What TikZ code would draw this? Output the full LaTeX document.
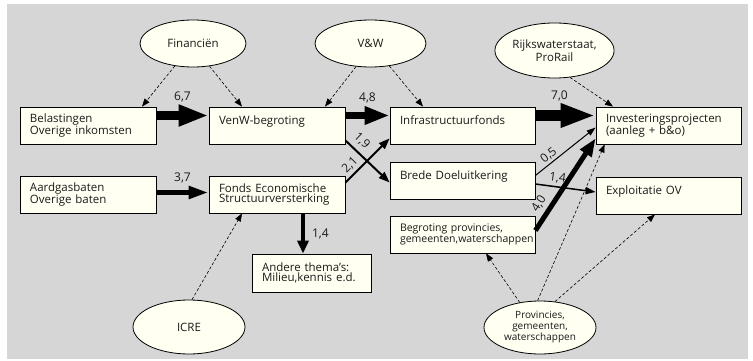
\documentclass[tikz,border=0pt]{standalone}
\usepackage{fontspec}
\setmainfont{Open Sans}
\usepackage{tikz}
\usetikzlibrary{arrows.meta,positioning,shapes.geometric}
\definecolor{bggrey}{HTML}{D6D6D6}
\definecolor{boxfill}{HTML}{FFFFF2}
\definecolor{ink}{HTML}{1A1A1A}

\begin{document}
\begin{tikzpicture}[x=1pt,y=-1pt,font=\fontsize{11.5}{10.5}\selectfont,text=ink,
  bx/.style={rectangle,draw=black,fill=boxfill,line width=0.8pt,align=left,inner xsep=10pt,inner ysep=3pt,minimum height=37pt,text width=#1},
  ov/.style={ellipse,draw=black,fill=boxfill,line width=0.8pt,align=center,inner sep=0pt},
  fl/.style={draw=black,line width=#1},
  dsh/.style={-{Triangle[length=8pt,width=6pt]},draw=black,line width=0.6pt,dash pattern=on 3pt off 2pt},
  lbl/.style={font=\fontsize{12}{12}\selectfont,inner sep=1pt}]
  \useasboundingbox (0,0) rectangle (753,361);
  \fill[bggrey] (7,4) rectangle (748,359);
  % ellipses
  \node[ov,minimum width=106pt,minimum height=47pt] (fin)  at (193,43.5)  {Financiën};
  \node[ov,minimum width=111pt,minimum height=47pt] (vw)   at (370.5,43.5) {V\&W};
  \node[ov,minimum width=107pt,minimum height=55pt] (rijk) at (554.5,50.5) {Rijkswaterstaat,\\ ProRail};
  \node[ov,minimum width=112pt,minimum height=54pt] (icre) at (189,327)   {ICRE};
  \node[ov,minimum width=112pt,minimum height=53pt,font=\fontsize{10}{11}\selectfont] (prov) at (540,327.5) {Provincies,\\ gemeenten,\\ waterschappen};
  % boxes
  \node[bx=116pt] (bel)   at (88,125.5)    {Belastingen\\ Overige inkomsten};
  \node[bx=116pt] (venw)  at (277,125.5)   {VenW-begroting\\ \mbox{}};
  \node[bx=125pt] (infra) at (462.5,125.5) {Infrastructuurfonds\\ \mbox{}};
  \node[bx=125pt] (inv)   at (668.5,125.5) {Investeringsprojecten\\ (aanleg + b\&o)};
  \node[bx=116pt] (aard)  at (88,194.5)    {Aardgasbaten\\ Overige baten};
  \node[bx=116pt] (fes)   at (277,194.5)   {Fonds Economische\\ Structuurversterking};
  \node[bx=125pt] (brede) at (462.5,180.5) {Brede Doeluitkering\\ \mbox{}};
  \node[bx=125pt] (expl)  at (668.5,195.5) {Exploitatie OV\\ \mbox{}};
  \node[bx=125pt,font=\fontsize{10.5}{11}\selectfont] (begr) at (462.5,234.5) {Begroting provincies,\\ gemeenten,waterschappen};
  \node[bx=99pt,minimum height=38pt] (andere) at (311.5,273) {Andere thema’s:\\ Milieu,kennis e.d.};
  % money flows
  \draw[fl=9pt,-{Triangle[length=30pt,width=20pt]}] ([yshift=10pt]bel.east) -- ([yshift=10pt]venw.west)
    node[lbl,midway,above=8pt] {6,7};
  \draw[fl=7pt,-{Triangle[length=25pt,width=17pt]}] ([yshift=10pt]venw.east) -- ([yshift=10pt]infra.west)
    node[lbl,midway,above=8pt] {4,8};
  \draw[fl=10pt,-{Triangle[length=35pt,width=22pt]}] ([yshift=10pt]infra.east) -- ([yshift=10pt]inv.west)
    node[lbl,pos=0.4,above=8pt] {7,0};
  \draw[fl=5pt,-{Triangle[length=20pt,width=12pt]}] ([yshift=2pt]aard.east) -- ([yshift=2pt]fes.west)
    node[lbl,midway,above=6pt] {3,7};
  \draw[fl=4pt,-{Triangle[length=13pt,width=11pt]}] ([xshift=26pt]fes.south) -- ([xshift=26pt]fes.south |- andere.north)
    node[lbl,midway,right=6pt] {1,4};
  \draw[fl=2pt,-{Triangle[length=11pt,width=8pt]}] ([yshift=4pt]venw.south east) -- ([yshift=-2pt]brede.west)
    node[lbl,pos=0.2,above=4pt,sloped] {1,9};
  \draw[fl=2pt,-{Triangle[length=11pt,width=8pt]}] ([yshift=-7pt]fes.north east) -- ([yshift=6pt]infra.south west)
    node[lbl,pos=0.25,above=2pt,sloped] {2,1};
  \draw[fl=1pt,-{Triangle[length=9pt,width=6pt]}] ([yshift=5pt]brede.east) -- ([yshift=-2pt]inv.west)
    node[lbl,pos=0.3,above=1pt,sloped] {0,5};
  \draw[fl=1.5pt,-{Triangle[length=10pt,width=7pt]}] ([yshift=-3.5pt]brede.east) -- ([yshift=3.5pt]expl.west)
    node[lbl,pos=0.35,above=2pt,sloped] {1,4};
  \draw[fl=5pt,-{Triangle[length=18pt,width=13pt]}] ([yshift=4pt]begr.east) -- ([yshift=6pt]inv.south west)
    node[lbl,pos=0.22,above=3pt,sloped] {4,0};
  % steering (dashed)
  \draw[dsh] (fin.231) -- ([xshift=54pt]bel.north);
  \draw[dsh] (fin.306) -- ([xshift=-35pt]venw.north);
  \draw[dsh] (vw.238) -- ([xshift=48pt]venw.north);
  \draw[dsh] (vw.310) -- ([xshift=-39.5pt]infra.north);
  \draw[dsh] (rijk.300) -- ([xshift=-55.5pt]inv.north);
  \draw[dsh] ([xshift=3pt]icre.north) -- ([xshift=-35pt]fes.south);
  \draw[dsh] (prov.129) -- ([xshift=23.5pt]begr.south);
  \draw[dsh] (prov.95) -- ([xshift=9pt]inv.south west);
  \draw[dsh] (prov.60) -- ([xshift=-13.5pt]expl.south);
\end{tikzpicture}
\end{document}
